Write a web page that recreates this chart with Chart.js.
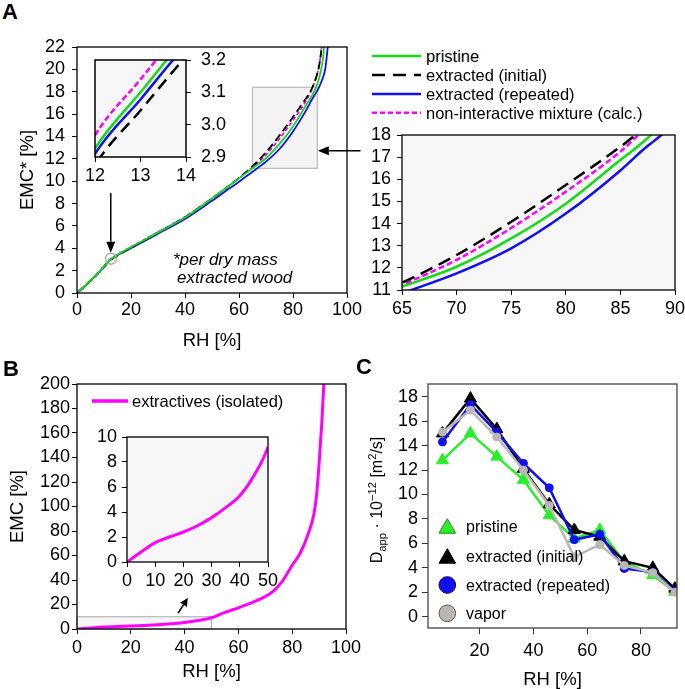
<!DOCTYPE html>
<html>
<head>
<meta charset="utf-8">
<script src="https://cdn.jsdelivr.net/npm/chart.js@4.4.1/dist/chart.umd.min.js"></script>
<style>
  body { margin: 0; background: #fff; }
  #page { position: relative; width: 685px; height: 689px; overflow: hidden; font-family: "Liberation Sans", Arial, sans-serif; color: #000; }
  .box { position: absolute; }
  .t { position: absolute; white-space: nowrap; line-height: 1; }
  .t sub, .t sup { line-height: 0; font-size: 70%; }
</style>
</head>
<body>
<div id="page">
  <div class="box" style="left:0;top:30px;width:365px;height:322px"><canvas id="cA"></canvas></div>
  <div class="box" style="left:82px;top:52px;width:153px;height:135px"><canvas id="cAin"></canvas></div>
  <div class="box" style="left:355px;top:122px;width:330px;height:200px"><canvas id="cAzoom"></canvas></div>
  <div class="box" style="left:0;top:352px;width:365px;height:337px"><canvas id="cB"></canvas></div>
  <div class="box" style="left:95px;top:428px;width:185px;height:165px"><canvas id="cBin"></canvas></div>
  <div class="box" style="left:365px;top:352px;width:320px;height:339px"><canvas id="cC"></canvas></div>

  <div class="t" style="left:2px;top:1.4px;font-size:22px;font-weight:bold">A</div>
  <div class="t" style="left:3px;top:358.4px;font-size:22px;font-weight:bold">B</div>
  <div class="t" style="left:356px;top:356.4px;font-size:22px;font-weight:bold">C</div>

  <div class="t" style="left:173px;top:250.6px;font-size:17px;font-style:italic">*per dry mass</div>
  <div class="t" style="left:177px;top:269.1px;font-size:17px;font-style:italic">extracted wood</div>

  <svg class="box" style="left:370px;top:50px" width="54" height="70">
    <line x1="2" y1="6" x2="51" y2="6" stroke="#14dc14" stroke-width="2.5"/>
    <line x1="2" y1="25" x2="51" y2="25" stroke="#000" stroke-width="2.5" stroke-dasharray="13 8"/>
    <line x1="2" y1="44" x2="51" y2="44" stroke="#1010ee" stroke-width="2.5"/>
    <line x1="2" y1="62.7" x2="51" y2="62.7" stroke="#ff00ff" stroke-width="2.5" stroke-dasharray="5 3"/>
  </svg>
  <div class="t" style="left:426px;top:47.8px;font-size:16.5px">pristine</div>
  <div class="t" style="left:426px;top:66.8px;font-size:16.5px">extracted (initial)</div>
  <div class="t" style="left:426px;top:85.8px;font-size:16.5px">extracted (repeated)</div>
  <div class="t" style="left:426px;top:104.5px;font-size:16.5px">non-interactive mixture (calc.)</div>

  <svg class="box" style="left:90px;top:395px" width="40" height="12">
    <line x1="2" y1="6" x2="38" y2="6" stroke="#ff00ff" stroke-width="3.5"/>
  </svg>
  <div class="t" style="left:132px;top:392.7px;font-size:16.5px">extractives (isolated)</div>

  <svg class="box" style="left:437px;top:517px" width="22" height="110">
    <polygon points="10.3,1.7 18.6,16.2 2,16.2" fill="#2bee2b" stroke="#1a8f1a" stroke-width="1"/>
    <polygon points="10.3,31.7 18.6,46.2 2,46.2" fill="#000" stroke="#000" stroke-width="1"/>
    <circle cx="10.3" cy="68" r="8.3" fill="#1010ee" stroke="#000066" stroke-width="1"/>
    <circle cx="10.3" cy="96.3" r="8.3" fill="#bdb7b3" stroke="#555" stroke-width="1"/>
  </svg>
  <div class="t" style="left:466px;top:519px;font-size:16px">pristine</div>
  <div class="t" style="left:466px;top:549px;font-size:16px">extracted (initial)</div>
  <div class="t" style="left:466px;top:577.5px;font-size:16px">extracted (repeated)</div>
  <div class="t" style="left:466px;top:605.8px;font-size:16px">vapor</div>

  <div class="t" style="left:277px;top:492px;width:200px;text-align:center;transform:rotate(-90deg);font-size:16px">D<sub>app</sub> · 10<sup>−12</sup> [m<sup>2</sup>/s]</div>
</div>

<script>
// ---------- panel A: sorption isotherms (EMC* vs RH) ----------
const rhA = [0, 3, 6, 9, 12, 13, 14, 20, 30, 40, 50, 55, 60, 65, 70, 75, 80, 85, 86, 87, 88, 89, 90, 91, 92, 93];
const emcPristine = [0, 0.65, 1.35, 2.1, 2.926, 3.10, 3.27, 4.1, 5.4, 6.75, 8.45, 9.35, 10.25, 11.15, 12.05, 13.33, 14.9, 16.87, 17.25, 17.65, 18.1, 18.7, 19.5, 20.8, 23.2, 26];
const emcInitial = [0, 0.63, 1.32, 2.05, 2.875, 3.044, 3.21, 4.05, 5.4, 6.78, 8.45, 9.35, 10.3, 11.33, 12.58, 14.08, 15.74, 17.47, 17.85, 18.3, 18.9, 19.6, 20.8, 22.8, 25, 28];
const emcRepeated = [0, 0.64, 1.33, 2.08, 2.91, 3.078, 3.245, 4.0, 5.3, 6.62, 8.25, 9.1, 9.95, 10.85, 11.75, 12.88, 14.45, 16.4, 16.85, 17.3, 17.7, 18.1, 18.6, 19.2, 20.1, 22.3];
const emcCalc = [0, 0.66, 1.36, 2.12, 2.967, 3.14, 3.31, 4.12, 5.45, 6.8, 8.45, 9.35, 10.25, 11.23, 12.36, 13.8, 15.44, 17.25, 17.7, 18.2, 18.85, 19.6, 20.8, 22.8, 25, 28];

const ticksA_x = [0, 20, 40, 60, 80, 100];
const ticksA_y = [0, 2, 4, 6, 8, 10, 12, 14, 16, 18, 20, 22];
const ticksAin_x = [12, 13, 14];
const ticksAin_y = [2.9, 3.0, 3.1, 3.2];
const ticksAzoom_x = [65, 70, 75, 80, 85, 90];
const ticksAzoom_y = [11, 12, 13, 14, 15, 16, 17, 18];

// ---------- panel B: isolated extractives ----------
const rhB = [0, 5, 10, 15, 20, 25, 30, 35, 40, 45, 50, 55, 60, 65, 70, 73, 76, 80, 83, 86, 88, 89, 90, 91, 92];
const emcExtractives = [0, 0.8, 1.55, 2.0, 2.4, 2.9, 3.55, 4.35, 5.3, 6.9, 9.2, 13.5, 17.3, 21.5, 26.5, 31, 38, 52, 62, 78, 93, 108, 135, 168, 210];
const ticksB_x = [0, 20, 40, 60, 80, 100];
const ticksB_y = [0, 20, 40, 60, 80, 100, 120, 140, 160, 180, 200];
const ticksBin_x = [0, 10, 20, 30, 40, 50];
const ticksBin_y = [0, 2, 4, 6, 8, 10];

// ---------- panel C: apparent diffusion coefficient ----------
const rhC = [6.2, 16.6, 26.4, 36.3, 45.9, 55.2, 64.7, 73.8, 84.4, 92.6];
const dPristine = [12.8, 15.0, 13.1, 11.2, 8.3, 6.4, 7.1, 4.5, 3.4, 2.05];
const dInitial = [15.0, 17.85, 15.35, 12.1, 9.2, 7.1, 6.55, 4.55, 4.0, 2.3];
const dRepeated = [14.3, 17.35, 15.1, 12.55, 10.55, 6.3, 6.75, 3.95, 3.65, 2.1];
const dVapor = [15.1, 16.9, 14.7, 12.0, 9.1, 4.9, 5.9, 4.2, 3.6, 2.0];
const ticksC_x = [20, 40, 60, 80];
const ticksC_y = [0, 2, 4, 6, 8, 10, 12, 14, 16, 18];

const GREEN = '#14dc14', BLACK = '#000', BLUE = '#1010ee', MAGENTA = '#ff00ff';

Chart.defaults.font.family = '"Liberation Sans", Arial, sans-serif';
Chart.defaults.color = '#000';

function pts(xs, ys) {
    return xs.map((x, i) => ({ x: x, y: ys[i] }));
}

function axis(o) {
    const horiz = o.pos === 'bottom';
    return {
        type: 'linear',
        position: o.pos,
        min: o.min,
        max: o.max,
        afterBuildTicks: s => { s.ticks = o.ticks.map(v => ({ value: v })); },
        afterFit: s => {
            if (horiz) { s.height = o.size; s.paddingLeft = 0; s.paddingRight = 0; }
            else { s.width = o.size; s.paddingTop = 0; s.paddingBottom = 0; }
        },
        grid: { display: true, drawOnChartArea: false, drawTicks: true, tickLength: o.tickLen || 5, color: o.tickColor || '#000', lineWidth: 1 },
        border: { display: false },
        ticks: { autoSkip: false, maxRotation: 0, padding: o.pad, font: { size: o.fontSize || 18 }, callback: o.fmt || (v => String(v)) },
        title: o.title ? { display: true, text: o.title, font: { size: 18.5 }, padding: o.titlePad } : { display: false }
    };
}

function framePlugin(id, bg, color, width) {
    return {
        id: id,
        beforeDraw(chart) {
            if (!bg) return;
            const a = chart.chartArea, ctx = chart.ctx;
            ctx.save();
            ctx.fillStyle = bg;
            ctx.fillRect(a.left, a.top, a.right - a.left, a.bottom - a.top);
            ctx.restore();
        },
        afterDraw(chart) {
            const a = chart.chartArea, ctx = chart.ctx;
            ctx.save();
            ctx.strokeStyle = color;
            ctx.lineWidth = width;
            ctx.strokeRect(a.left, a.top, a.right - a.left, a.bottom - a.top);
            ctx.restore();
        }
    };
}

function arrow(ctx, x1, y1, x2, y2, len, half) {
    const ang = Math.atan2(y2 - y1, x2 - x1);
    const bx = x2 - len * Math.cos(ang), by = y2 - len * Math.sin(ang);
    ctx.beginPath();
    ctx.moveTo(x1, y1);
    ctx.lineTo(bx, by);
    ctx.stroke();
    ctx.beginPath();
    ctx.moveTo(x2, y2);
    ctx.lineTo(bx + half * Math.sin(ang), by - half * Math.cos(ang));
    ctx.lineTo(bx - half * Math.sin(ang), by + half * Math.cos(ang));
    ctx.closePath();
    ctx.fill();
}

function makeChart(id, datasets, scales, padding, plugins) {
    return new Chart(document.getElementById(id), {
        type: 'line',
        data: { datasets: datasets },
        options: {
            responsive: true,
            maintainAspectRatio: false,
            animation: false,
            devicePixelRatio: 1,
            layout: { padding: padding },
            plugins: { legend: { display: false }, tooltip: { enabled: false } },
            scales: scales
        },
        plugins: plugins
    });
}

function isoSets(w, blackDash, pinkDash) {
    const base = { pointRadius: 0, borderWidth: w, fill: false, cubicInterpolationMode: 'monotone' };
    return [
        Object.assign({ data: pts(rhA, emcPristine), borderColor: GREEN }, base),
        Object.assign({ data: pts(rhA, emcInitial), borderColor: BLACK, borderDash: blackDash }, base),
        Object.assign({ data: pts(rhA, emcRepeated), borderColor: BLUE }, base),
        Object.assign({ data: pts(rhA, emcCalc), borderColor: MAGENTA, borderDash: pinkDash }, base)
    ];
}

// zoom window marked in panel A and the pointers
const zoomWin = { x0: 65, x1: 89, y0: 11.15, y1: 18.4 };
const annotA = {
    id: 'annotA',
    beforeDatasetsDraw(chart) {
        const { ctx, scales: { x, y } } = chart;
        const l = x.getPixelForValue(zoomWin.x0), r = x.getPixelForValue(zoomWin.x1);
        const t = y.getPixelForValue(zoomWin.y1), b = y.getPixelForValue(zoomWin.y0);
        ctx.save();
        ctx.fillStyle = '#f4f4f4';
        ctx.fillRect(l, t, r - l, b - t);
        ctx.strokeStyle = '#bdbdbd';
        ctx.lineWidth = 1.3;
        ctx.strokeRect(l, t, r - l, b - t);
        ctx.restore();
    },
    afterDatasetsDraw(chart) {
        const { ctx, scales: { x, y } } = chart;
        ctx.save();
        ctx.strokeStyle = '#000';
        ctx.fillStyle = '#000';
        ctx.lineWidth = 1.5;
        arrow(ctx, x.getPixelForValue(105), y.getPixelForValue(12.72), x.getPixelForValue(89.2), y.getPixelForValue(12.72), 11, 4.5);
        arrow(ctx, x.getPixelForValue(12.5), y.getPixelForValue(8.95), x.getPixelForValue(12.5), y.getPixelForValue(3.6), 11, 4.5);
        ctx.strokeStyle = '#aaa';
        ctx.lineWidth = 1.5;
        ctx.beginPath();
        ctx.arc(x.getPixelForValue(12.6), y.getPixelForValue(3.07), 5.5, 0, Math.PI * 2);
        ctx.stroke();
        ctx.restore();
    }
};

makeChart('cA', isoSets(1.8, [8, 4], [4, 2.5]), {
    x: axis({ pos: 'bottom', min: 0, max: 100, ticks: ticksA_x, size: 59, pad: 1, title: 'RH [%]', titlePad: { top: 0, bottom: 0 } }),
    y: axis({ pos: 'left', min: 0, max: 22, ticks: ticksA_y, size: 77, pad: 7, title: 'EMC* [%]', titlePad: { top: 17, bottom: 0 } })
}, { left: 0, top: 17, right: 18, bottom: 0 }, [annotA, framePlugin('frameA', null, '#000', 1.3)]);

makeChart('cAin', isoSets(2.5, [12, 7], [6, 3]), {
    x: axis({ pos: 'bottom', min: 12, max: 14, ticks: ticksAin_x, size: 30, pad: 3 }),
    y: axis({ pos: 'right', min: 2.9, max: 3.2, ticks: ticksAin_y, size: 49, pad: 10, fmt: v => v.toFixed(1) })
}, { left: 13, top: 8, right: 0, bottom: 0 }, [framePlugin('frameAin', '#f7f7f7', '#000', 1.5)]);

makeChart('cAzoom', isoSets(2.5, [13, 7], [6, 3]), {
    x: axis({ pos: 'bottom', min: 65, max: 90, ticks: ticksAzoom_x, size: 32, pad: 3 }),
    y: axis({ pos: 'left', min: 11, max: 18, ticks: ticksAzoom_y, size: 47, pad: 6 })
}, { left: 0, top: 13, right: 10, bottom: 0 }, [framePlugin('frameAz', '#f7f7f7', '#000', 1.3)]);

// ---------- panel B ----------
const smallWin = { x0: 0, x1: 50, y0: 0, y1: 10 };
const annotB = {
    id: 'annotB',
    beforeDatasetsDraw(chart) {
        const { ctx, scales: { x, y } } = chart;
        const l = x.getPixelForValue(smallWin.x0), r = x.getPixelForValue(smallWin.x1);
        const t = y.getPixelForValue(smallWin.y1), b = y.getPixelForValue(smallWin.y0);
        ctx.save();
        ctx.fillStyle = '#f5f5f5';
        ctx.fillRect(l, t, r - l, b - t);
        ctx.strokeStyle = '#aaa';
        ctx.lineWidth = 1;
        ctx.strokeRect(l, t, r - l, b - t);
        ctx.fillStyle = '#000';
        ctx.strokeStyle = '#000';
        ctx.lineWidth = 1.6;
        arrow(ctx, x.getPixelForValue(37.6), y.getPixelForValue(13), x.getPixelForValue(41.2), y.getPixelForValue(25.3), 8, 4);
        ctx.restore();
    }
};
const extrSet = () => [{ data: pts(rhB, emcExtractives), borderColor: MAGENTA, borderWidth: 3, pointRadius: 0, fill: false, cubicInterpolationMode: 'monotone' }];

makeChart('cB', extrSet(), {
    x: axis({ pos: 'bottom', min: 0, max: 100, ticks: ticksB_x, size: 60, pad: 3, title: 'RH [%]', titlePad: { top: 0, bottom: 6 } }),
    y: axis({ pos: 'left', min: 0, max: 200, ticks: ticksB_y, size: 77, pad: 2, title: 'EMC [%]', titlePad: { top: 7, bottom: 0 } })
}, { left: 0, top: 32, right: 19, bottom: 0 }, [annotB, framePlugin('frameB', null, '#000', 1.3)]);

makeChart('cBin', extrSet(), {
    x: axis({ pos: 'bottom', min: 0, max: 50, ticks: ticksBin_x, size: 31, pad: 3 }),
    y: axis({ pos: 'left', min: 0, max: 10, ticks: ticksBin_y, size: 32, pad: 5 })
}, { left: 0, top: 9, right: 12, bottom: 0 }, [framePlugin('frameBin', '#f7f7f7', '#000', 1.3)]);

// ---------- panel C ----------
function dSet(ys, color, fillCol, style, r) {
    return { data: pts(rhC, ys), borderColor: color, backgroundColor: fillCol, pointBackgroundColor: fillCol, pointBorderColor: color,
             borderWidth: 2.5, pointStyle: style, pointRadius: r, pointBorderWidth: 1, tension: 0, fill: false };
}
makeChart('cC', [
    dSet(dVapor, '#bdb7b3', '#bdb7b3', 'circle', 4),
    dSet(dRepeated, BLUE, BLUE, 'circle', 4),
    dSet(dInitial, '#000', '#000', 'triangle', 7),
    dSet(dPristine, '#2bee2b', '#2bee2b', 'triangle', 7)
], {
    x: axis({ pos: 'bottom', min: 0.82, max: 93.4, ticks: ticksC_x, size: 63, pad: 6, tickLen: 6, tickColor: '#333', title: 'RH [%]', titlePad: { top: 0, bottom: 0 } }),
    y: axis({ pos: 'left', min: -0.92, max: 19.04, ticks: ticksC_y, size: 63, pad: 4, tickLen: 6, tickColor: '#333' })
}, { left: 0, top: 32, right: 6, bottom: 0 }, [framePlugin('frameC', null, '#444', 1.3)]);
</script>
</body>
</html>
